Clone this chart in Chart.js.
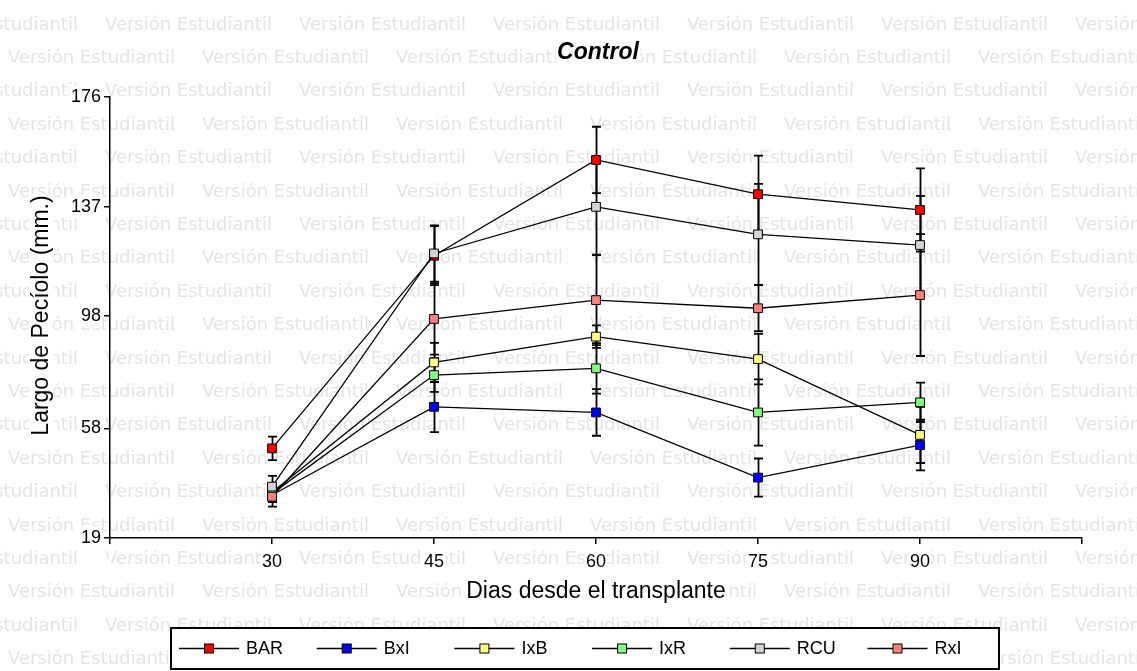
<!DOCTYPE html>
<html>
<head>
<meta charset="utf-8">
<script src="https://cdn.jsdelivr.net/npm/chart.js@4.4.1/dist/chart.umd.min.js"></script>
<style>
html,body{margin:0;padding:0;background:#fff;}
#wrap{position:relative;width:1137px;height:671px;}
</style>
</head>
<body>
<div id="wrap"><canvas id="c" width="1137" height="671"></canvas></div>
<script>
// ---- data ----
const days = [30, 45, 60, 75, 90];
const seriesNames = ['BAR', 'BxI', 'IxB', 'IxR', 'RCU', 'RxI'];
const BAR = [50.9, 119.5, 153.6, 141.4, 135.8];
const BxI = [34.3, 65.7, 63.7, 40.5, 52.1];
const IxB = [35.3, 81.5, 90.7, 82.7, 55.7];
const IxR = [34.8, 77.0, 79.4, 63.7, 67.3];
const RCU = [37.3, 120.3, 136.9, 127.1, 123.3];
const RxI = [33.7, 97.0, 103.7, 100.8, 105.5];
const errBAR = [4.2, 10.5, 11.8, 13.7, 14.8];
const errBxI = [2.5, 9.0, 8.3, 6.8, 9.0];
const errIxB = [3.0, 7.0, 4.0, 9.0, 10.0];
const errIxR = [3.0, 6.0, 9.0, 11.8, 7.0];
const errRCU = [3.8, 10.0, 17.0, 18.0, 17.5];
const errRxI = [3.5, 12.7, 16.0, 8.2, 21.7];
const yTicks = [19, 58, 98, 137, 176];
const xTickLabels = ['30', '45', '60', '75', '90'];
const titleText = 'Control';
const xTitle = 'Dias desde el transplante';
const yTitle = 'Largo de Pecíolo (mm.)';
const watermarkText = 'Versión Estudiantil';

const values = [BAR, BxI, IxB, IxR, RCU, RxI];
const errors = [errBAR, errBxI, errIxB, errIxR, errRCU, errRxI];
const colors = ['#ff0000', '#0000ff', '#ffff80', '#80ff80', '#d4d4d4', '#ff8080'];

const FONT = '"Liberation Sans", Arial, sans-serif';

const datasets = seriesNames.map((name, i) => ({
  label: name,
  data: days.map((d, j) => ({x: d, y: values[i][j]})),
  errors: errors[i],
  borderColor: '#000',
  borderWidth: 1.3,
  backgroundColor: colors[i],
  pointStyle: 'rect',
  pointRadius: 6.2,
  pointHoverRadius: 6.2,
  pointBackgroundColor: colors[i],
  pointBorderColor: '#000',
  pointBorderWidth: 1,
  tension: 0,
  fill: false,
  order: seriesNames.length - i
}));

function textWithBackdrop(ctx, text, x, y, pad) {
  const w = ctx.measureText(text).width;
  const m = ctx.measureText('Mg');
  const h = (m.actualBoundingBoxAscent + m.actualBoundingBoxDescent) || 20;
  ctx.save();
  ctx.fillStyle = '#fff';
  ctx.fillRect(x - w / 2 - pad, y - h / 2 - pad, w + 2 * pad, h + 2 * pad);
  ctx.restore();
  ctx.fillText(text, x, y);
}

const backgroundPlugin = {
  id: 'bgWatermark',
  beforeDraw(chart) {
    const ctx = chart.ctx;
    ctx.save();
    ctx.fillStyle = '#fff';
    ctx.fillRect(0, 0, chart.width, chart.height);
    ctx.font = '16px "DejaVu Sans", Verdana, sans-serif';
    const w16 = ctx.measureText(watermarkText).width;
    const size = 16 * 167 / w16;
    ctx.font = size.toFixed(2) + 'px "DejaVu Sans", Verdana, sans-serif';
    ctx.fillStyle = '#e4e4e4';
    ctx.textBaseline = 'middle';
    ctx.textAlign = 'left';
    const period = 194;
    for (let k = 0; k < 20; k++) {
      const yy = 25 + k * 33.4;
      let x0 = (k % 2 === 0) ? -89 : 8;
      for (let xx = x0; xx < chart.width; xx += period) {
        ctx.fillText(watermarkText, xx, yy);
      }
    }
    ctx.restore();
  }
};

const errorBarPlugin = {
  id: 'errorBars',
  beforeDatasetsDraw(chart) {
    const ctx = chart.ctx;
    const xs = chart.scales.x, ys = chart.scales.y;
    ctx.save();
    ctx.strokeStyle = '#000';
    ctx.lineWidth = 1.8;
    chart.data.datasets.forEach(ds => {
      ds.data.forEach((p, j) => {
        const e = ds.errors[j];
        const px = Math.round(xs.getPixelForValue(p.x)) + 0.5;
        const t = ys.getPixelForValue(p.y + e);
        const b = ys.getPixelForValue(p.y - e);
        ctx.beginPath();
        ctx.moveTo(px, t); ctx.lineTo(px, b);
        ctx.moveTo(px - 4.5, t); ctx.lineTo(px + 4.5, t);
        ctx.moveTo(px - 4.5, b); ctx.lineTo(px + 4.5, b);
        ctx.stroke();
      });
    });
    ctx.restore();
  }
};

const textPlugin = {
  id: 'texts',
  afterDraw(chart) {
    const ctx = chart.ctx;
    const ca = chart.chartArea;
    ctx.save();
    ctx.fillStyle = '#000';
    ctx.textAlign = 'center';
    ctx.textBaseline = 'middle';
    // title
    ctx.font = 'italic bold 23px ' + FONT;
    textWithBackdrop(ctx, titleText, 598, 53, 1);
    // x title
    ctx.font = '23px ' + FONT;
    textWithBackdrop(ctx, xTitle, (ca.left + ca.right) / 2, 592, 1);
    // y title
    ctx.save();
    ctx.translate(41.5, (ca.top + ca.bottom) / 2 - 2);
    ctx.rotate(-Math.PI / 2);
    ctx.font = '23px ' + FONT;
    textWithBackdrop(ctx, yTitle, 0, 0, 1);
    ctx.restore();
    // legend
    const bx = 171, by = 628, bw = 828, bh = 41;
    ctx.fillStyle = '#fff';
    ctx.fillRect(bx, by, bw, bh);
    ctx.strokeStyle = '#000';
    ctx.lineWidth = 2;
    ctx.strokeRect(bx, by, bw, bh);
    const cy = by + bh / 2;
    ctx.font = '18px ' + FONT;
    ctx.textAlign = 'left';
    chart.data.datasets.forEach((ds, i) => {
      const x0 = 179 + i * 137.7;
      ctx.strokeStyle = '#000';
      ctx.lineWidth = 1.3;
      ctx.beginPath();
      ctx.moveTo(x0, cy); ctx.lineTo(x0 + 60, cy);
      ctx.stroke();
      ctx.fillStyle = ds.pointBackgroundColor;
      ctx.fillRect(x0 + 25.5, cy - 4.5, 9, 9);
      ctx.lineWidth = 1;
      ctx.strokeRect(x0 + 25.5, cy - 4.5, 9, 9);
      ctx.fillStyle = '#000';
      ctx.fillText(ds.label, x0 + 67, cy + 1);
    });
    ctx.restore();
  }
};

const tickFont = {family: FONT, size: 18};

new Chart(document.getElementById('c'), {
  type: 'line',
  data: {datasets},
  options: {
    responsive: false,
    animation: false,
    events: [],
    layout: {padding: {top: 97, right: 55, left: 0, bottom: 0}},
    plugins: {legend: {display: false}, title: {display: false}, tooltip: {enabled: false}},
    scales: {
      x: {
        type: 'linear',
        min: 15, max: 105,
        afterBuildTicks: s => { s.ticks = [15].concat(days, [105]).map(v => ({value: v})); },
        ticks: {
          color: '#000', font: tickFont, padding: 7, maxRotation: 0, autoSkip: false,
          callback: (v) => { const i = days.indexOf(v); return i >= 0 ? xTickLabels[i] : ''; },
          showLabelBackdrop: true, backdropColor: '#fff', backdropPadding: 1
        },
        grid: {display: true, drawOnChartArea: false, drawTicks: true, tickLength: 6, color: '#000', lineWidth: 1.5},
        border: {display: true, color: '#000', width: 1.5},
        afterFit: s => { s.height = 133; }
      },
      y: {
        type: 'linear',
        min: 19, max: 176,
        afterBuildTicks: s => { s.ticks = yTicks.map(v => ({value: v})); },
        ticks: {
          color: '#000', font: tickFont, padding: 3, autoSkip: false,
          showLabelBackdrop: true, backdropColor: '#fff', backdropPadding: 1
        },
        grid: {display: true, drawOnChartArea: false, drawTicks: true, tickLength: 6, color: '#000', lineWidth: 1.5},
        border: {display: true, color: '#000', width: 1.5},
        afterFit: s => { s.width = 110; }
      }
    }
  },
  plugins: [backgroundPlugin, errorBarPlugin, textPlugin]
});
</script>
</body>
</html>
